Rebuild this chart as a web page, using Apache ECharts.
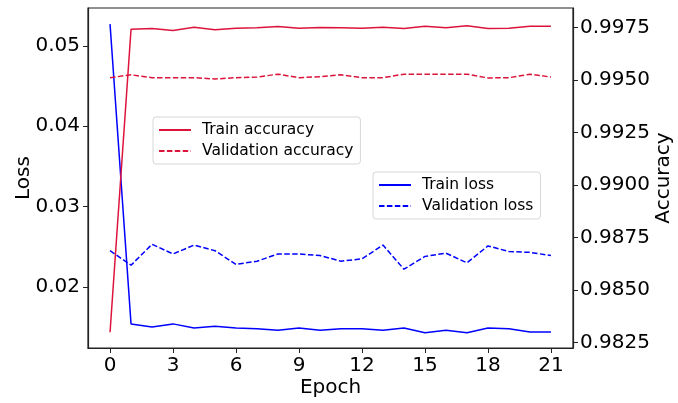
<!DOCTYPE html>
<html>
<head>
<meta charset="utf-8">
<script src="https://cdn.jsdelivr.net/npm/echarts@6/dist/echarts.min.js"></script>
<style>
  html, body { margin: 0; padding: 0; background: #fff; }
  #main { width: 678px; height: 403px; }
</style>
</head>
<body>
<div id="main"></div>
<script>
var epochs = [0, 1, 2, 3, 4, 5, 6, 7, 8, 9, 10, 11, 12, 13, 14, 15, 16, 17, 18, 19, 20, 21];

var trainLoss = [0.0527, 0.0154, 0.0150, 0.0154, 0.0149, 0.0151, 0.0149, 0.0148, 0.0146, 0.0149, 0.0146,
  0.0148, 0.0148, 0.0146, 0.0149, 0.0143, 0.0146, 0.0143, 0.0149, 0.0148, 0.0144, 0.0144];
var valLoss = [0.0245, 0.0227, 0.0253, 0.0241, 0.0252, 0.0245, 0.0228, 0.0232, 0.0241, 0.0241, 0.0239,
  0.0232, 0.0235, 0.0252, 0.0222, 0.0238, 0.0242, 0.0230, 0.0251, 0.0244, 0.0243, 0.0239];
var trainAcc = [0.98299, 0.99742, 0.99745, 0.99736, 0.99751, 0.99739, 0.99747, 0.99749, 0.99755, 0.99747, 0.99750,
  0.99749, 0.99747, 0.99751, 0.99745, 0.99756, 0.99749, 0.99758, 0.99745, 0.99747, 0.99756, 0.99756];
var valAcc = [0.99511, 0.99525, 0.99511, 0.99511, 0.99511, 0.99505, 0.99511, 0.99514, 0.99528, 0.99511, 0.99516,
  0.99525, 0.99511, 0.99511, 0.99528, 0.99528, 0.99528, 0.99528, 0.99510, 0.99511, 0.99528, 0.99514];

var epochTicks = [0, 3, 6, 9, 12, 15, 18, 21];
var lossTicks = [0.02, 0.03, 0.04, 0.05];
var accTicks = [0.9825, 0.985, 0.9875, 0.99, 0.9925, 0.995, 0.9975];

var FONT = 'DejaVu Sans';
var DASH = [5.5, 2.4];

function pairs(ys) {
  return epochs.map(function (e, i) { return [e, ys[i]]; });
}

function legendBox(names, left, top) {
  return {
    data: names,
    orient: 'vertical',
    left: left, top: top,
    itemWidth: 32, itemHeight: 12, itemGap: 5,
    padding: [5, 7, 5, 5],
    borderColor: '#d6d6d6', borderWidth: 1, borderRadius: 3,
    backgroundColor: 'rgba(255,255,255,0.8)',
    itemStyle: { opacity: 0 },
    textStyle: { fontFamily: FONT, fontSize: 15.5, color: '#000', padding: [0, 0, 0, 6] }
  };
}

var chart = echarts.init(document.getElementById('main'), null, { renderer: 'canvas' });

var option = {
  animation: false,
  textStyle: { fontFamily: FONT },
  grid: {
    left: 88, right: 105, top: 8, bottom: 55,
    outerBoundsMode: 'none', containLabel: false,
    show: true, borderColor: '#222', borderWidth: 1.2, backgroundColor: 'transparent'
  },
  legend: [
    legendBox(['Train accuracy', 'Validation accuracy'], 153, 117),
    legendBox(['Train loss', 'Validation loss'], 373, 172)
  ],
  xAxis: {
    type: 'value', min: -1.05, max: 22.05,
    name: 'Epoch', nameLocation: 'middle', nameGap: 30, nameMoveOverlap: false,
    nameTextStyle: { fontFamily: FONT, fontSize: 20, color: '#000' },
    axisLine: { show: true, onZero: false, lineStyle: { color: '#222', width: 1.2 } },
    axisTick: { show: true, length: 5, customValues: epochTicks, lineStyle: { color: '#222' } },
    axisLabel: { customValues: epochTicks, fontSize: 20, color: '#000', fontFamily: FONT, margin: 8 },
    splitLine: { show: false }
  },
  yAxis: [{
    type: 'value', min: 0.0124, max: 0.0547, position: 'left',
    name: 'Loss', nameLocation: 'middle', nameGap: 54, nameRotate: 90, nameMoveOverlap: false,
    nameTextStyle: { fontFamily: FONT, fontSize: 20, color: '#000' },
    axisLine: { show: true, onZero: false, lineStyle: { color: '#222', width: 1.2 } },
    axisTick: { show: true, length: 5, customValues: lossTicks, lineStyle: { color: '#222' } },
    axisLabel: {
      customValues: lossTicks, fontSize: 20, color: '#000', fontFamily: FONT, margin: 8,
      formatter: function (v) { return v.toFixed(2); }
    },
    splitLine: { show: false }
  }, {
    type: 'value', min: 0.98224, max: 0.99843, position: 'right',
    name: 'Accuracy', nameLocation: 'middle', nameGap: 81, nameRotate: 90, nameMoveOverlap: false,
    nameTextStyle: { fontFamily: FONT, fontSize: 20, color: '#000' },
    axisLine: { show: true, onZero: false, lineStyle: { color: '#222', width: 1.2 } },
    axisTick: { show: true, length: 5, customValues: accTicks, lineStyle: { color: '#222' } },
    axisLabel: {
      customValues: accTicks, fontSize: 20, color: '#000', fontFamily: FONT, margin: 7,
      formatter: function (v) { return v.toFixed(4); }
    },
    splitLine: { show: false }
  }],
  series: [{
    name: 'Train loss', type: 'line', yAxisIndex: 0, data: pairs(trainLoss),
    symbol: 'none', color: '#0000ff', lineStyle: { color: '#0000ff', width: 1.5 }
  }, {
    name: 'Validation loss', type: 'line', yAxisIndex: 0, data: pairs(valLoss),
    symbol: 'none', color: '#0000ff', lineStyle: { color: '#0000ff', width: 1.5, type: DASH }
  }, {
    name: 'Train accuracy', type: 'line', yAxisIndex: 1, data: pairs(trainAcc),
    symbol: 'none', color: '#dc143c', lineStyle: { color: '#dc143c', width: 1.5 }
  }, {
    name: 'Validation accuracy', type: 'line', yAxisIndex: 1, data: pairs(valAcc),
    symbol: 'none', color: '#dc143c', lineStyle: { color: '#dc143c', width: 1.5, type: DASH }
  }]
};

chart.setOption(option);
</script>
</body>
</html>
